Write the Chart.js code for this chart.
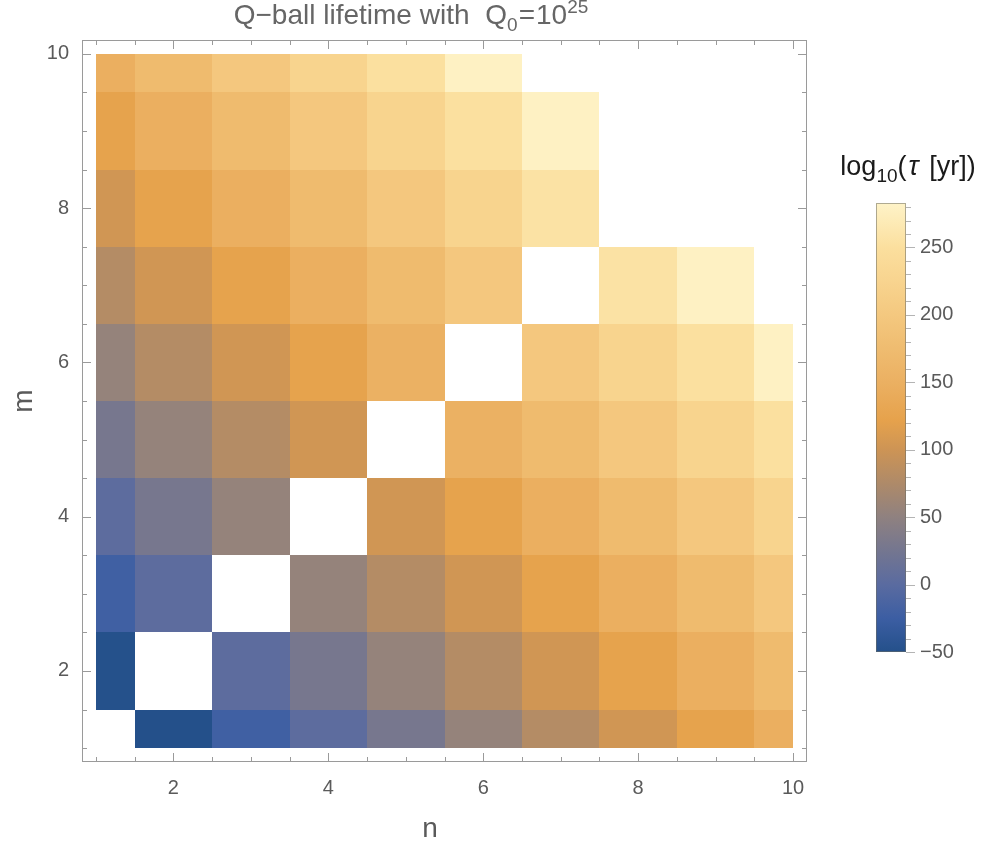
<!DOCTYPE html>
<html>
<head>
<meta charset="utf-8">
<script src="https://cdn.jsdelivr.net/npm/chart.js@4.4.1/dist/chart.umd.min.js"></script>
<style>
    body { margin: 0; background: #fff; }
    #wrap { position: relative; width: 990px; height: 847px; font-family: "Liberation Sans", Arial, sans-serif; color: #5a5a5a; }
    #mainChart { position: absolute; left: 0; top: 0; }
    #barChart { position: absolute; left: 850px; top: 190px; }
    #plotTitle { position: absolute; left: 0; top: 0; width: 822px; text-align: center; font-size: 28px; line-height: 30px; white-space: nowrap; color: #666; }
    #plotTitle .q { margin-left: 8px; }
    #plotTitle .eq { margin: 0 1px; }
    #barTitle { position: absolute; left: 808px; top: 151px; width: 200px; text-align: center; font-size: 27px; line-height: 30px; white-space: nowrap; color: #1a1a1a; }
    #barTitle i { margin: 0 3px 0 2px; }
    #nLabel { position: absolute; left: 400px; top: 811px; width: 60px; text-align: center; font-size: 28px; line-height: 34px; color: #5a5a5a; }
    .lo { font-size: 19px; position: relative; top: 7px; }
    .hi { font-size: 19px; position: relative; top: -11px; }
</style>
</head>
<body>
<div id="wrap">
    <canvas id="mainChart" width="990" height="847"></canvas>
    <canvas id="barChart" width="140" height="480"></canvas>
    <div id="plotTitle">Q−ball lifetime with <span class="q">Q</span><span class="lo">0</span><span class="eq">=</span>10<span class="hi">25</span></div>
    <div id="barTitle">log<span class="lo">10</span>(<i>τ</i> [yr])</div>
    <div id="nLabel">n</div>
</div>
<script>
// grid of (n, m) combinations
const nValues = [1, 2, 3, 4, 5, 6, 7, 8, 9, 10];
const mValues = [1, 2, 3, 4, 5, 6, 7, 8, 9, 10];

// log10 of the lifetime in years, one row per m (m = 1 first), null = no entry
const lifetime = [
    [null, -50, -22, 3, 28, 55, 80, 103, 123, 148],
    [-49, null, 3, 28, 55, 80, 103, 123, 148, 172],
    [-22, 3, null, 55, 80, 103, 123, 148, 172, 198],
    [3, 28, 55, null, 103, 123, 148, 172, 198, 224],
    [28, 55, 80, 103, null, 152, 172, 198, 224, 251],
    [55, 80, 103, 123, 152, null, 198, 224, 251, 279],
    [80, 103, 123, 148, 172, 198, null, 255, 279, null],
    [103, 123, 148, 172, 198, 224, 255, null, null, null],
    [123, 148, 172, 198, 224, 251, 279, null, null, null],
    [148, 172, 198, 224, 251, 279, null, null, null, null]
];

const xTicks = [2, 4, 6, 8, 10];
const yTicks = [2, 4, 6, 8, 10];
const barTicks = [-50, 0, 50, 100, 150, 200, 250];
const barMin = -50;
const barMax = 283;

// colour scheme: blue -> grey -> orange -> cream
const palette = [
    [-50, "#24508a"], [-25, "#3c5ea3"], [0, "#5a6ba0"], [25, "#747690"],
    [50, "#8f8180"], [75, "#ae8a69"], [100, "#cd9455"], [122, "#e6a24c"],
    [150, "#ebb062"], [175, "#efbc70"], [200, "#f4c87f"], [225, "#f8d48f"],
    [250, "#fbdf9e"], [283, "#fef3c8"]
];

function hexToRgb(h) {
    return [parseInt(h.slice(1, 3), 16), parseInt(h.slice(3, 5), 16), parseInt(h.slice(5, 7), 16)];
}

function colorFor(v) {
    if (v <= palette[0][0]) return palette[0][1];
    for (let i = 1; i < palette.length; i++) {
        if (v <= palette[i][0]) {
            const [v0, c0] = palette[i - 1];
            const [v1, c1] = palette[i];
            const t = (v - v0) / (v1 - v0);
            const a = hexToRgb(c0), b = hexToRgb(c1);
            const rgb = a.map((x, k) => Math.round(x + (b[k] - x) * t));
            return `rgb(${rgb[0]},${rgb[1]},${rgb[2]})`;
        }
    }
    return palette[palette.length - 1][1];
}

const cells = [];
mValues.forEach((m, i) => {
    nValues.forEach((n, j) => {
        const v = lifetime[i][j];
        if (v !== null) cells.push({ x: n, y: m, v: v });
    });
});

const frameColor = "#9a9a9a";
const labelColor = "#5a5a5a";
Chart.defaults.font.family = "'Liberation Sans', Arial, sans-serif";

// draws the cells, then the frame with inward ticks on all four sides
const cellPlugin = {
    id: "cells",
    beforeDatasetsDraw(chart) {
        const { ctx, scales: { x, y } } = chart;
        const nLo = nValues[0], nHi = nValues[nValues.length - 1];
        const mLo = mValues[0], mHi = mValues[mValues.length - 1];
        ctx.save();
        cells.forEach(c => {
            const x0 = Math.round(x.getPixelForValue(Math.max(c.x - 0.5, nLo)));
            const x1 = Math.round(x.getPixelForValue(Math.min(c.x + 0.5, nHi)));
            const y0 = Math.round(y.getPixelForValue(Math.min(c.y + 0.5, mHi)));
            const y1 = Math.round(y.getPixelForValue(Math.max(c.y - 0.5, mLo)));
            ctx.fillStyle = colorFor(c.v);
            ctx.fillRect(x0, y0, x1 - x0, y1 - y0);
        });
        ctx.restore();
    },
    afterDraw(chart) {
        const { ctx, chartArea: a, scales: { x, y } } = chart;
        ctx.save();
        ctx.strokeStyle = frameColor;
        ctx.lineWidth = 1;
        ctx.strokeRect(a.left + 0.5, a.top + 0.5, a.right - a.left - 1, a.bottom - a.top - 1);
        ctx.beginPath();
        for (let v = nValues[0]; v <= nValues[nValues.length - 1]; v += 0.5) {
            const len = xTicks.includes(v) ? 9 : 5;
            const px = Math.round(x.getPixelForValue(v)) + 0.5;
            ctx.moveTo(px, a.bottom); ctx.lineTo(px, a.bottom - len);
            ctx.moveTo(px, a.top); ctx.lineTo(px, a.top + len);
        }
        for (let v = mValues[0]; v <= mValues[mValues.length - 1]; v += 0.5) {
            const len = yTicks.includes(v) ? 9 : 5;
            const py = Math.round(y.getPixelForValue(v)) + 0.5;
            ctx.moveTo(a.left, py); ctx.lineTo(a.left + len, py);
            ctx.moveTo(a.right, py); ctx.lineTo(a.right - len, py);
        }
        ctx.stroke();
        ctx.restore();
    }
};

new Chart(document.getElementById("mainChart"), {
    type: "scatter",
    data: { datasets: [{ data: cells, pointRadius: 0, pointHoverRadius: 0 }] },
    options: {
        responsive: false,
        animation: false,
        events: [],
        layout: { padding: { left: 0, top: 40, right: 183, bottom: 0 } },
        plugins: { legend: { display: false }, tooltip: { enabled: false } },
        scales: {
            x: {
                type: "linear", min: 0.82, max: 10.18,
                grid: { display: false, drawTicks: false },
                border: { display: false },
                ticks: { color: labelColor, font: { size: 20 }, padding: 14, maxRotation: 0, autoSkip: false },
                afterBuildTicks: s => { s.ticks = xTicks.map(v => ({ value: v })); },
                afterFit: s => { s.height = 85; s.paddingLeft = 0; s.paddingRight = 0; }
            },
            y: {
                type: "linear", min: 0.82, max: 10.18,
                grid: { display: false, drawTicks: false },
                border: { display: false },
                ticks: { color: labelColor, font: { size: 20 }, padding: 13, autoSkip: false },
                afterBuildTicks: s => { s.ticks = yTicks.map(v => ({ value: v })); },
                afterFit: s => { s.width = 82; s.paddingTop = 0; s.paddingBottom = 0; },
                title: { display: true, text: "m", color: labelColor, font: { size: 28 }, padding: { top: 7, bottom: 0 } }
            }
        }
    },
    plugins: [cellPlugin]
});

// colour bar: gradient from the same palette, ticks to the right
const barPlugin = {
    id: "colorbar",
    beforeDatasetsDraw(chart) {
        const { ctx, chartArea: a, scales: { y } } = chart;
        const grad = ctx.createLinearGradient(0, a.bottom, 0, a.top);
        palette.forEach(([v, c]) => {
            const t = (a.bottom - y.getPixelForValue(v)) / (a.bottom - a.top);
            grad.addColorStop(Math.min(Math.max(t, 0), 1), c);
        });
        ctx.save();
        ctx.fillStyle = grad;
        ctx.fillRect(a.left, a.top, a.right - a.left, a.bottom - a.top);
        ctx.strokeStyle = "rgba(110,110,100,0.55)";
        ctx.lineWidth = 1;
        ctx.strokeRect(a.left + 0.5, a.top + 0.5, a.right - a.left - 1, a.bottom - a.top - 1);
        ctx.strokeStyle = "#b4b4b4";
        ctx.beginPath();
        for (let v = barMin; v <= barMax; v += 10) {
            const len = barTicks.includes(v) ? 9 : 5;
            const py = Math.round(y.getPixelForValue(v)) + 0.5;
            ctx.moveTo(a.right, py); ctx.lineTo(a.right + len, py);
        }
        ctx.stroke();
        ctx.restore();
    }
};

new Chart(document.getElementById("barChart"), {
    type: "scatter",
    data: { datasets: [] },
    options: {
        responsive: false,
        animation: false,
        events: [],
        layout: { padding: { left: 26, top: 13, right: 0, bottom: 18 } },
        plugins: { legend: { display: false }, tooltip: { enabled: false } },
        scales: {
            x: { display: false, min: 0, max: 1 },
            y: {
                position: "right", min: barMin, max: barMax,
                grid: { display: false, drawTicks: false },
                border: { display: false },
                ticks: {
                    color: labelColor, font: { size: 20 }, padding: 14,
                    callback: v => String(v).replace("-", "\u2212")
                },
                afterBuildTicks: s => { s.ticks = barTicks.map(v => ({ value: v })); },
                afterFit: s => { s.width = 84; s.paddingTop = 0; s.paddingBottom = 0; }
            }
        }
    },
    plugins: [barPlugin]
});
</script>
</body>
</html>
